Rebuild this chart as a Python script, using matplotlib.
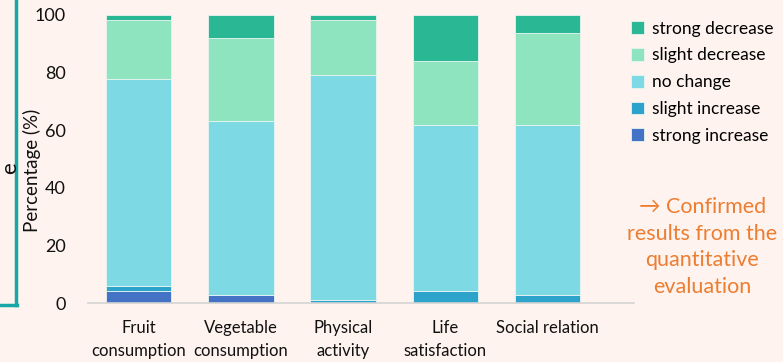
import matplotlib.pyplot as plt
import numpy as np

plt.rcParams['font.family'] = ['Lato', 'DejaVu Sans']

# data (percent of respondents)
categories = ['Fruit\nconsumption', 'Vegetable\nconsumption', 'Physical\nactivity',
              'Life\nsatisfaction', 'Social relation']
strong_increase = [4.4, 2.9, 0.0, 0.0, 0.0]
slight_increase = [1.7, 0.0, 1.1, 4.4, 2.9]
no_change = [71.6, 60.4, 78.1, 57.3, 58.8]
slight_decrease = [20.6, 28.7, 19.1, 22.3, 31.9]
strong_decrease = [1.7, 8.0, 1.7, 16.0, 6.4]

series = [
    ('strong increase', strong_increase, '#4472C4'),
    ('slight increase', slight_increase, '#2CA3CB'),
    ('no change', no_change, '#7DD9E3'),
    ('slight decrease', slight_decrease, '#8FE4C0'),
    ('strong decrease', strong_decrease, '#29B794'),
]

bg = '#FEF3EE'
fig = plt.figure(figsize=(7.83, 3.62), dpi=100, facecolor=bg)
ax = fig.add_axes([0.112, 0.162, 0.698, 0.797], facecolor=bg)

x = np.arange(len(categories))
bottom = np.zeros(len(categories))
handles = []
for name, vals, col in series:
    b = ax.bar(x, vals, 0.64, bottom=bottom, color=col, edgecolor='#e8f4f0',
               linewidth=0.6, label=name)
    handles.append(b)
    bottom += np.array(vals)

ax.set_xlim(-0.5, 4.85)
ax.set_ylim(0, 100)
ax.set_yticks([0, 20, 40, 60, 80, 100])
ax.set_xticks(x)
ax.set_xticklabels(categories, fontsize=12, linespacing=1.5)
ax.tick_params(axis='both', length=0, colors='#111111')
ax.tick_params(axis='y', labelsize=13, pad=16)
ax.tick_params(axis='x', pad=12)
for s in ['top', 'right', 'left']:
    ax.spines[s].set_visible(False)
ax.spines['bottom'].set_color('#d4d4d4')
ax.spines['bottom'].set_linewidth(1.2)
ax.set_ylabel('Percentage (%)', fontsize=13.5, color='#111111')
ax.yaxis.set_label_coords(-0.085, 0.46)

leg = fig.legend(handles[::-1], [s[0] for s in series][::-1], loc='upper left',
                 bbox_to_anchor=(0.797, 0.962), frameon=False, fontsize=12.5,
                 handlelength=0.75, handleheight=0.75, handletextpad=0.45,
                 labelspacing=0.62, borderaxespad=0.0)

fig.text(0.897, 0.318, '\u2192 Confirmed\nresults from the\nquantitative\nevaluation',
         ha='center', va='center', color='#ED7D31', fontsize=15.5, linespacing=1.42)

# part of neighbouring slide box on the left
fig.add_artist(plt.Line2D([0.021, 0.021], [1.0, 0.158], color='#17A7A7', lw=2.5))
fig.add_artist(plt.Line2D([0.0, 0.022], [0.158, 0.158], color='#17A7A7', lw=2.5))
fig.text(0.0, 0.535, 'e', rotation=90, fontsize=16, color='#111111', ha='left', va='center')

fig.savefig('out.png', dpi=100, facecolor=bg)
